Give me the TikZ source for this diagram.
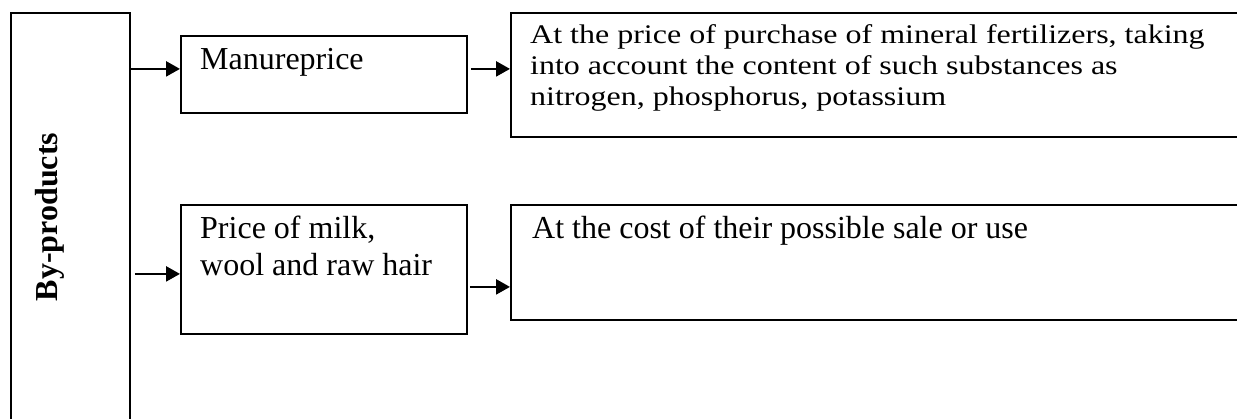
\documentclass[tikz,border=0pt]{standalone}
\usepackage{graphicx}
\usepackage{fontspec}
\setmainfont{Liberation Serif}
\usetikzlibrary{arrows.meta}
\begin{document}
\begin{tikzpicture}[x=1pt, y=-1pt,
    box/.style={draw, line width=1.8pt, anchor=north west, inner sep=0pt},
    txt/.style={anchor=base west, inner sep=0pt, align=left, font=\fontsize{32}{37}\selectfont},
    arr/.style={-{Triangle[length=14pt,width=15pt]}, line width=2.4pt}]
    \clip (0,0) rectangle (1237,418);

    % Boxes
    \node[box, minimum width=119pt, minimum height=410pt] (byprod) at (10,12) {};
    \node[box, minimum width=286pt, minimum height=77pt] (manure) at (180,35) {};
    \node[box, minimum width=286pt, minimum height=129pt] (price) at (180,204) {};
    \node[box, minimum width=760pt, minimum height=124pt] (fert) at (510,12) {};
    \node[box, minimum width=760pt, minimum height=115pt] (cost) at (510,204) {};

    % Texts
    \node[txt, anchor=center, rotate=90, font=\fontsize{32}{37}\selectfont\bfseries] (bylabel) at (50,217) {By-products};
    \node[txt] (manuretxt) at ([shift={(20,34)}]manure.north west) {Manureprice};
    \node[txt] (pricetxt) at ([shift={(20,71)}]price.north west) {Price of milk,\\wool and raw hair};
    \node[txt] (ferttxt) at ([shift={(20,31)}]fert.north west) {\scalebox{1}[0.84]{\begin{tabular}[t]{@{}l@{}}At the price of purchase of mineral fertilizers, taking\\into account the content of such substances as\\nitrogen, phosphorus, potassium\end{tabular}}};
    \node[txt] (costtxt) at ([shift={(22,34)}]cost.north west) {At the cost of their possible sale or use};

    % Arrows
    \coordinate (m1) at ([yshift=5.5pt]manure.west);
    \coordinate (p1) at ([yshift=-4.5pt]price.west);
    \coordinate (f1) at ([yshift=5.5pt]manure.east);
    \coordinate (c1) at ([yshift=-17.5pt]price.east);
    \draw[arr] (byprod.east |- m1) -- (m1);
    \draw[arr, shorten <=4pt] (byprod.east |- p1) -- (p1);
    \draw[arr, shorten <=3pt] (f1) -- (fert.west |- f1);
    \draw[arr, shorten <=2pt] (c1) -- (cost.west |- c1);
\end{tikzpicture}
\end{document}
